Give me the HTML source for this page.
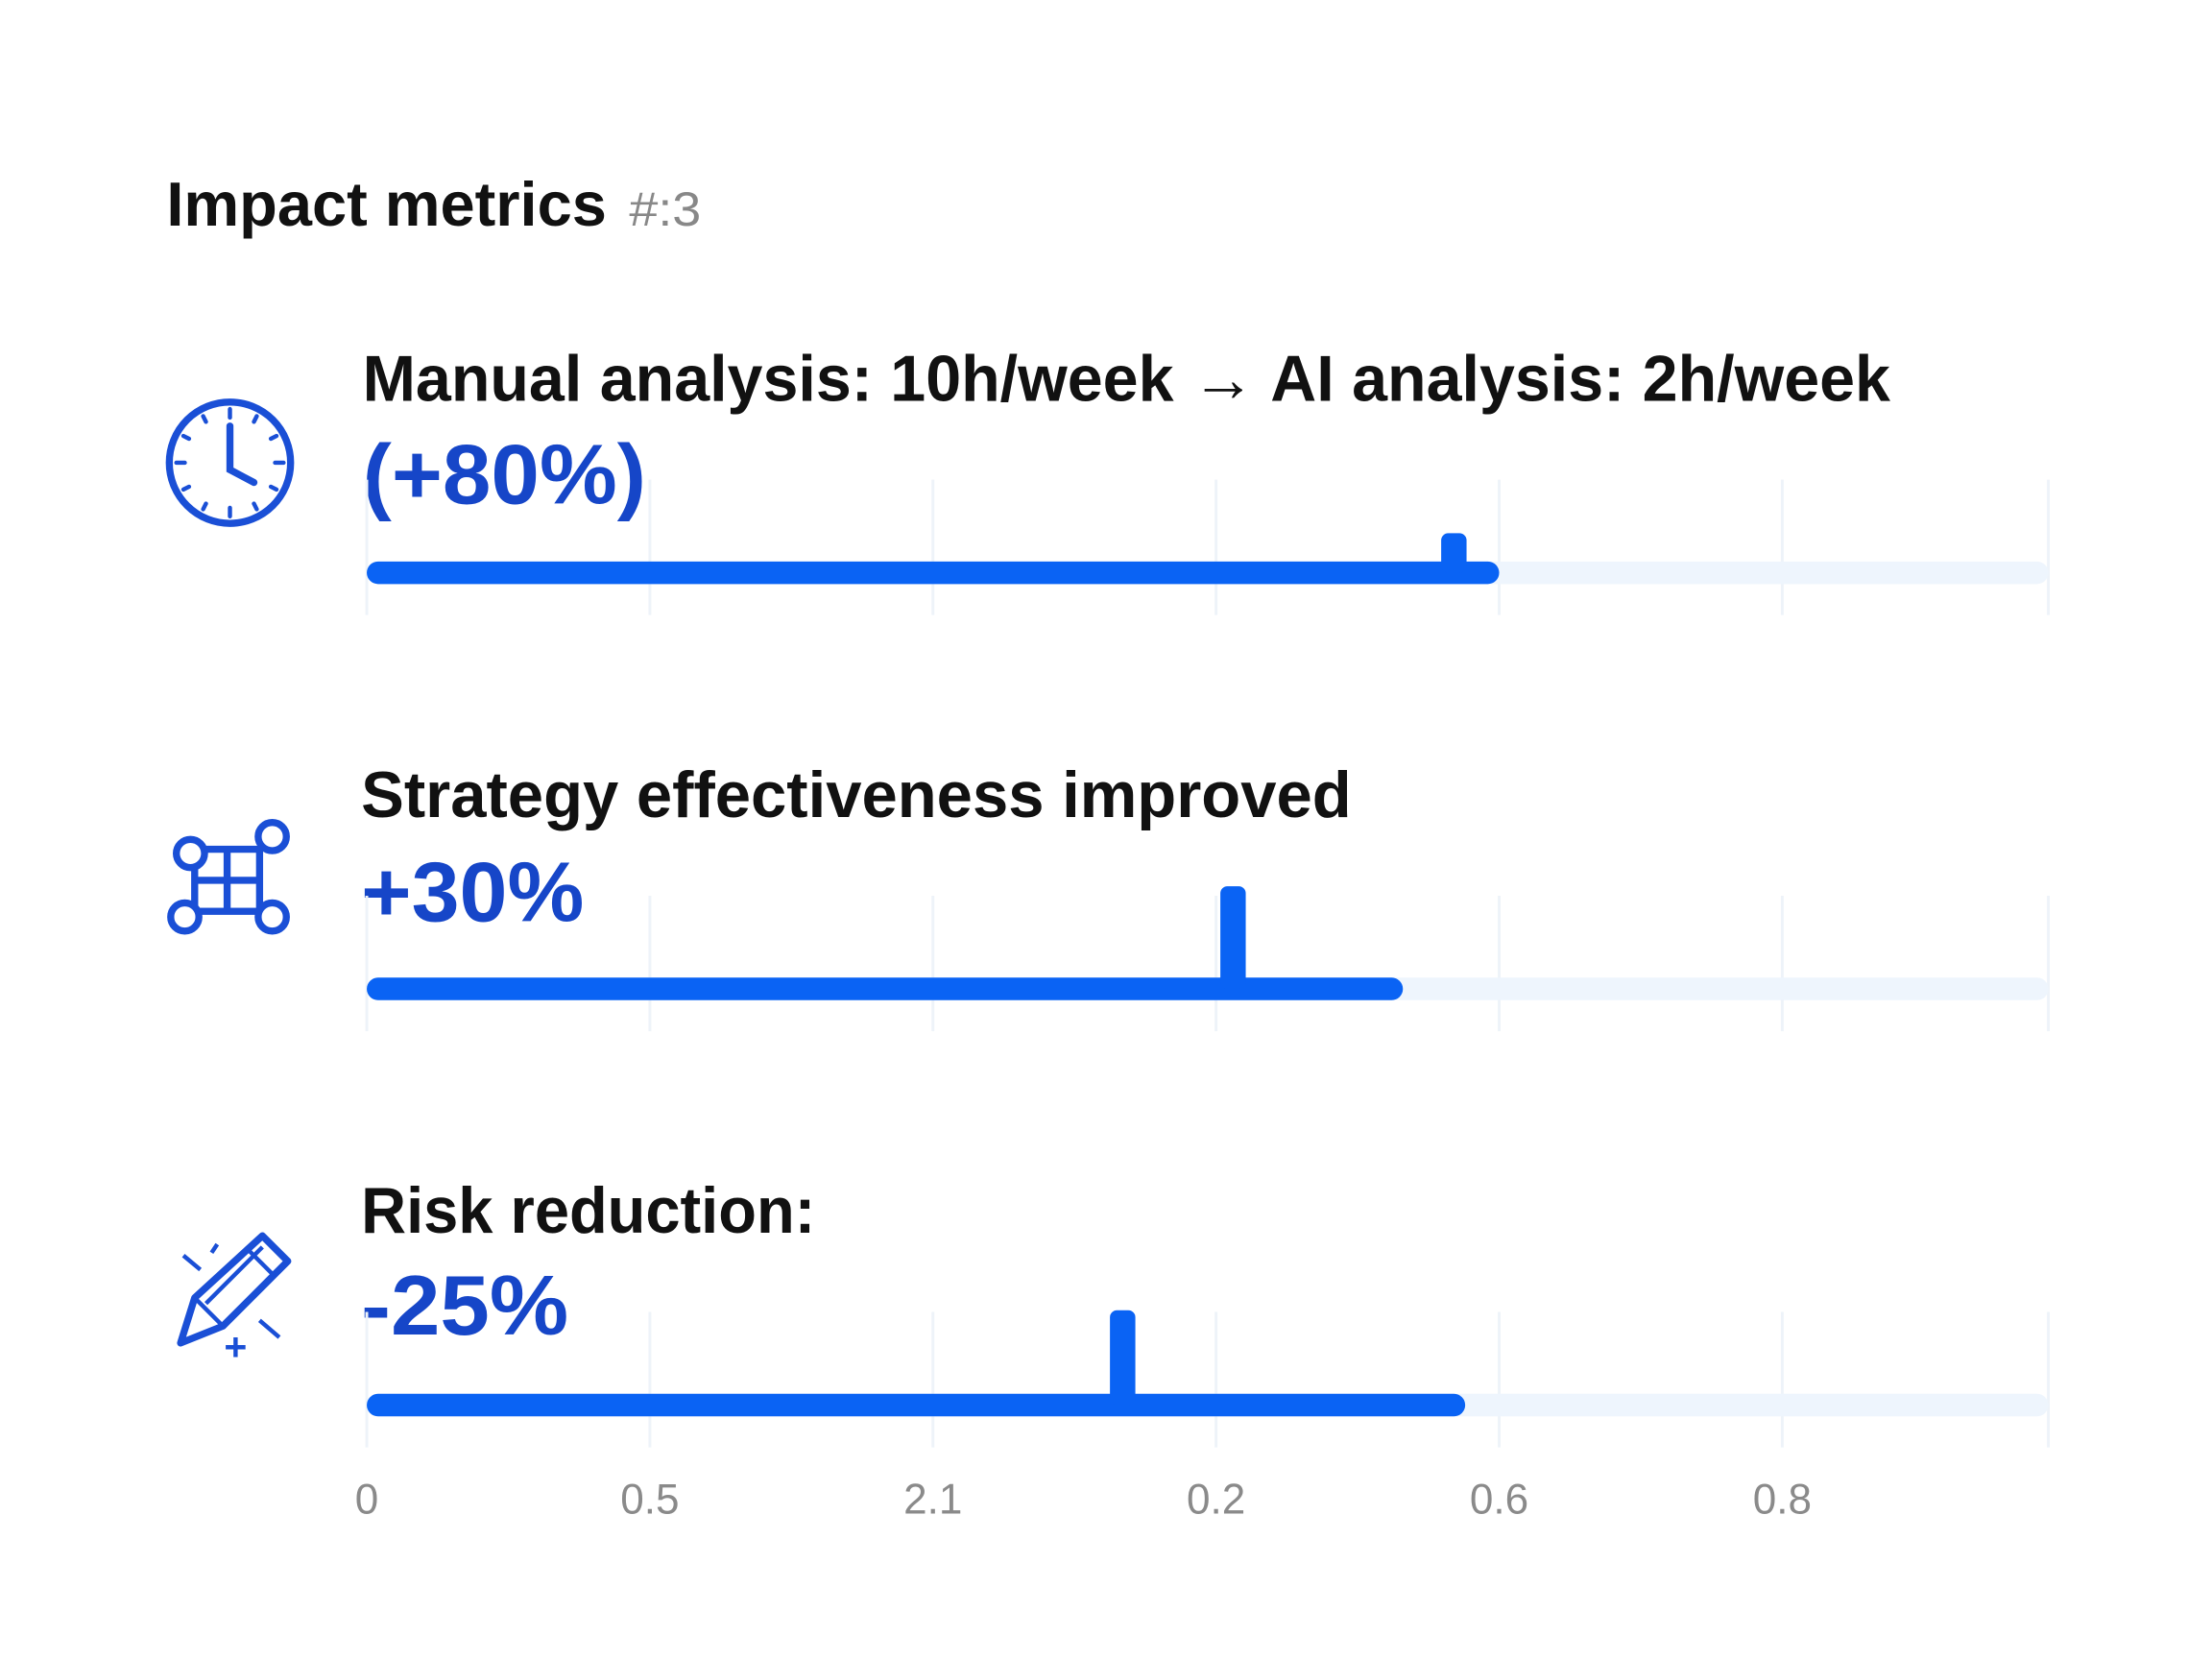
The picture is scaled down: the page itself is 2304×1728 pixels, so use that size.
<!DOCTYPE html>
<html><head><meta charset="utf-8"><style>
html,body{margin:0;padding:0;background:#fff}
svg{display:block}
text{font-family:"Liberation Sans",sans-serif}
</style></head><body>
<svg id="chart" width="2304" height="1728" viewBox="0 0 1568 1176" xmlns="http://www.w3.org/2000/svg">
<text x="118" y="160" font-size="44" font-weight="bold" fill="#111" textLength="312" lengthAdjust="spacingAndGlyphs">Impact metrics</text>
<text x="446" y="160" font-size="34" fill="#888" textLength="51" lengthAdjust="spacingAndGlyphs">#:3</text>
<g id="icons">
 <g fill="none" stroke="#1a4fd6" stroke-width="5" stroke-linecap="round">
  <circle cx="163" cy="328" r="43"/>
  <path d="M163 302 V333 L180 342"/>
  <path d="M163 290v6M163 360v6M125 328h6M195 328h6M144 295l2 4M182 295l-2 4M144 361l2-4M182 361l-2-4M130 309l4 2M196 309l-4 2M130 347l4-2M196 347l-4-2" stroke-width="3"/>
 </g>
 <g fill="none" stroke="#1a4fd6" stroke-width="5">
  <rect x="138" y="602" width="46" height="44"/>
  <line x1="138" y1="624" x2="184" y2="624"/><line x1="161" y1="602" x2="161" y2="646"/>
  <circle cx="135" cy="605" r="10" fill="#fff"/><circle cx="193" cy="593" r="10" fill="#fff"/>
  <circle cx="131" cy="650" r="10" fill="#fff"/><circle cx="193" cy="650" r="10" fill="#fff"/>
 </g>
 <g fill="none" stroke="#1a4fd6" stroke-width="5" stroke-linejoin="round">
  <path d="M128 952 L138 920 L186 876 L204 894 L158 940 Z"/>
  <path d="M138 920 L158 940 M176 886 L194 904 M146 924 L186 884" stroke-width="3"/>
  <path d="M130 890l12 10M184 936l14 12M167 948v14M160 955h14M150 888l4-6" stroke-width="3"/>
 </g>
</g>
<g id="labels">
 <text x="257" y="284" font-size="46" font-weight="bold" fill="#111" textLength="1083" lengthAdjust="spacingAndGlyphs">Manual analysis: 10h/week → AI analysis: 2h/week</text>
 <text x="257" y="357" font-size="60" font-weight="bold" fill="#1646c8" textLength="201" lengthAdjust="spacingAndGlyphs">(+80%)</text>
 <text x="256" y="579" font-size="46" font-weight="bold" fill="#111" textLength="702" lengthAdjust="spacingAndGlyphs">Strategy effectiveness improved</text>
 <text x="256" y="653" font-size="60" font-weight="bold" fill="#1646c8" textLength="158" lengthAdjust="spacingAndGlyphs">+30%</text>
 <text x="256" y="874" font-size="46" font-weight="bold" fill="#111" textLength="322" lengthAdjust="spacingAndGlyphs">Risk reduction:</text>
 <text x="256" y="946" font-size="60" font-weight="bold" fill="#1646c8" textLength="147" lengthAdjust="spacingAndGlyphs">-25%</text>
</g>
<g id="grid"></g><g id="bars"></g><g id="ticks"></g>
</svg>
<script>
const categories = ["Manual vs AI analysis", "Strategy effectiveness", "Risk reduction"];
const barValues = [4.0, 3.66, 3.88];
const markerValues = [3.84, 3.06, 2.67];
const markerHeights = [1.0, 2.6, 2.4];
const tickLabels = ["0", "0.5", "2.1", "0.2", "0.6", "0.8"];
const tickValues = [0, 1, 2, 3, 4, 5];
const domainMax = 5.94;

const NS = "http://www.w3.org/2000/svg";
const X0 = 260, X1 = 1452;
const x = v => X0 + v / domainMax * (X1 - X0);
const rowY = i => 406 + i * 295;
const markerH = h => h * 28;
function mk(tag, attrs, parent){const e=document.createElementNS(NS,tag);for(const k in attrs)e.setAttribute(k,attrs[k]);parent.appendChild(e);return e;}
const grid=document.getElementById('grid'), bars=document.getElementById('bars'), ticks=document.getElementById('ticks');
categories.forEach((c,i)=>{
  const cy=rowY(i);
  tickValues.concat([domainMax]).forEach(t=>{
    const g=mk('line',{x1:x(t),x2:x(t),y1:cy-66,y2:cy+30,stroke:'#eef3f9','stroke-width':2},grid);
    
    
  });
  const tr=mk('rect',{x:X0,y:cy-8,width:X1-X0,height:16,rx:8,fill:'#eef5fd'},bars);
  
  
  const b=mk('rect',{x:X0,y:cy-8,width:x(barValues[i])-X0,height:16,rx:8,fill:'#0a63f4'},bars);
  
  
  const mh=markerH(markerHeights[i]);
  const m=mk('rect',{x:x(markerValues[i])-9,y:cy-mh,width:18,height:mh,rx:5,fill:'#0a63f4'},bars);
  
  
});
tickValues.forEach((t,i)=>{
  const tx=mk('text',{x:x(t),y:1073,'font-size':30,fill:'#8a8a8a','text-anchor':'middle'},ticks);
  tx.textContent=tickLabels[i];
  
  
});
</script>
</body></html>
